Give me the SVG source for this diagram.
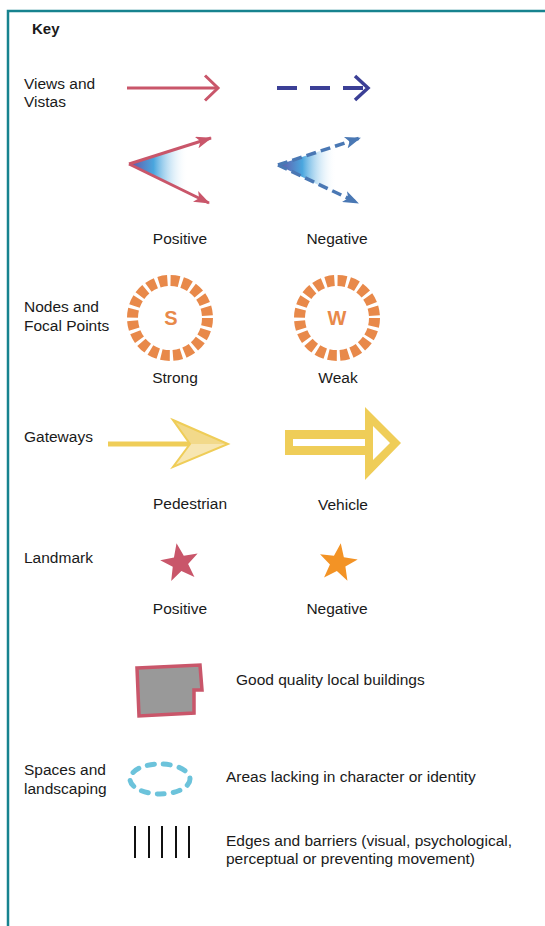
<svg xmlns="http://www.w3.org/2000/svg" width="545" height="926" viewBox="0 0 545 926">
<defs>
<style>
text{font-family:"Liberation Sans",Arial,sans-serif;font-size:15.5px;fill:#1a1a1a}
.c{text-anchor:middle}
.red{stroke:#c9566a;fill:none}
.navy{stroke:#3b3f96;fill:none}
.steel{stroke:#4a78b4;fill:none}
.ring{fill:none;stroke:#e8894a;stroke-width:11}
.ringtxt{font-size:20px;font-weight:bold;fill:#e8894a;text-anchor:middle}
.yel{fill:#efcd58}
</style>
<linearGradient id="gP" gradientUnits="objectBoundingBox" x1="0" y1="0" x2="1" y2="0">
<stop offset="0" stop-color="#6452a4"/>
<stop offset="0.3" stop-color="#4aa6de"/>
<stop offset="0.72" stop-color="#ffffff" stop-opacity="0"/>
</linearGradient>
<marker id="mR" viewBox="0 0 16 12" refX="15" refY="6" markerWidth="16" markerHeight="12" markerUnits="userSpaceOnUse" orient="auto">
<path d="M0,0 L16,6 L0,12 L4,6 z" fill="#c9566a"/>
</marker>
<marker id="mB" viewBox="0 0 16 12" refX="15" refY="6" markerWidth="16" markerHeight="12" markerUnits="userSpaceOnUse" orient="auto">
<path d="M0,0 L16,6 L0,12 L4,6 z" fill="#4a78b4"/>
</marker>
</defs>
<rect id="frame" x="8" y="11" width="560" height="940" fill="none" stroke="#17838f" stroke-width="2.5"/>
<text x="32" y="34" style="font-weight:bold;font-size:15px">Key</text>

<g id="views">
<text x="24" y="89">Views and</text>
<text x="24" y="107">Vistas</text>
<g id="view-pos-line">
<line x1="127" y1="88" x2="217" y2="88" class="red" stroke-width="3"/>
<polyline points="205,75.5 218,88 205,100.5" class="red" stroke-width="3"/>
</g>
<g id="view-neg-line">
<line x1="277" y1="88" x2="367" y2="88" class="navy" stroke-width="4" stroke-dasharray="20,13"/>
<polyline points="355,76 368,88 355,100" class="navy" stroke-width="3.5"/>
</g>
<g id="view-pos">
<polygon points="129,164 211,138 209,204" fill="url(#gP)"/>
<line x1="129" y1="164" x2="211" y2="138" class="red" stroke-width="3" marker-end="url(#mR)"/>
<line x1="129" y1="164" x2="209" y2="203" class="red" stroke-width="3" marker-end="url(#mR)"/>
</g>
<g id="view-neg">
<polygon points="278,165 359,138 357,204" fill="url(#gP)"/>
<line x1="278" y1="165" x2="360" y2="138" class="steel" stroke-width="3.5" stroke-dasharray="10,5" marker-end="url(#mB)"/>
<line x1="278" y1="165" x2="358" y2="203" class="steel" stroke-width="3.5" stroke-dasharray="10,5" marker-end="url(#mB)"/>
</g>
<text x="180" y="244" class="c">Positive</text>
<text x="337" y="244" class="c">Negative</text>
</g>

<g id="nodes">
<text x="24" y="312">Nodes and</text>
<text x="24" y="331">Focal Points</text>
<g id="node-strong">
<circle cx="170" cy="318" r="37.5" class="ring" stroke-dasharray="8.6,3.2"/>
<text x="171" y="325" class="ringtxt">S</text>
</g>
<g id="node-weak">
<circle cx="337" cy="318" r="37.5" class="ring" stroke-dasharray="8.6,3.2"/>
<text x="337" y="325" class="ringtxt">W</text>
</g>
<text x="175" y="383" class="c">Strong</text>
<text x="338" y="383" class="c">Weak</text>
</g>

<g id="gateways">
<text x="24" y="442">Gateways</text>
<g id="gate-ped">
<line x1="108" y1="444" x2="192" y2="444" stroke="#efcd58" stroke-width="5"/>
<polygon points="173,420 228,444 190,444" fill="#f2d98a"/>
<polygon points="173,467 228,444 190,444" fill="#f7e6b2"/>
<polygon points="173,420 228,444 173,467 190,444" fill="none" stroke="#efcd58" stroke-width="2"/>
</g>
<g id="gate-veh">
<polygon class="yel" points="285,430 365,430 365,407 401,443 365,480 365,455 285,455"/>
<rect x="293" y="439" width="72" height="7" fill="#fff"/>
<polygon points="373,426 390,443 373,460" fill="#fff"/>
</g>
<text x="190" y="509" class="c">Pedestrian</text>
<text x="343" y="510" class="c">Vehicle</text>
</g>

<g id="landmarks">
<text x="24" y="563">Landmark</text>
<polygon id="star-pos" transform="translate(180,563) rotate(-10)" fill="#c9566a" points="0,-20 5,-6.5 19,-6.2 7.8,2.5 11.8,16.2 0,8 -11.8,16.2 -7.8,2.5 -19,-6.2 -5,-6.5"/>
<polygon id="star-neg" transform="translate(338,563) rotate(8)" fill="#f39325" points="0,-20 5,-6.5 19,-6.2 7.8,2.5 11.8,16.2 0,8 -11.8,16.2 -7.8,2.5 -19,-6.2 -5,-6.5"/>
<text x="180" y="614" class="c">Positive</text>
<text x="337" y="614" class="c">Negative</text>
</g>

<g id="buildings">
<polygon points="137,668 200,665 202,690 194,690 194,713 139,716" fill="#999999" stroke="#c9566a" stroke-width="3.5" stroke-linejoin="miter"/>
<text x="236" y="685">Good quality local buildings</text>
</g>

<g id="spaces">
<text x="24" y="775">Spaces and</text>
<text x="24" y="794">landscaping</text>
<ellipse cx="160" cy="779" rx="30" ry="15" fill="none" stroke="#6cc3db" stroke-width="5" stroke-linecap="round" stroke-dasharray="7,9"/>
<text x="226" y="782">Areas lacking in character or identity</text>
</g>

<g id="edges">
<g stroke="#111" stroke-width="2">
<line x1="135" y1="826" x2="135" y2="858"/>
<line x1="149" y1="826" x2="149" y2="858"/>
<line x1="162" y1="826" x2="162" y2="858"/>
<line x1="176" y1="826" x2="176" y2="858"/>
<line x1="189" y1="826" x2="189" y2="858"/>
</g>
<text x="226" y="846">Edges and barriers (visual, psychological,</text>
<text x="226" y="864">perceptual or preventing movement)</text>
</g>
</svg>
